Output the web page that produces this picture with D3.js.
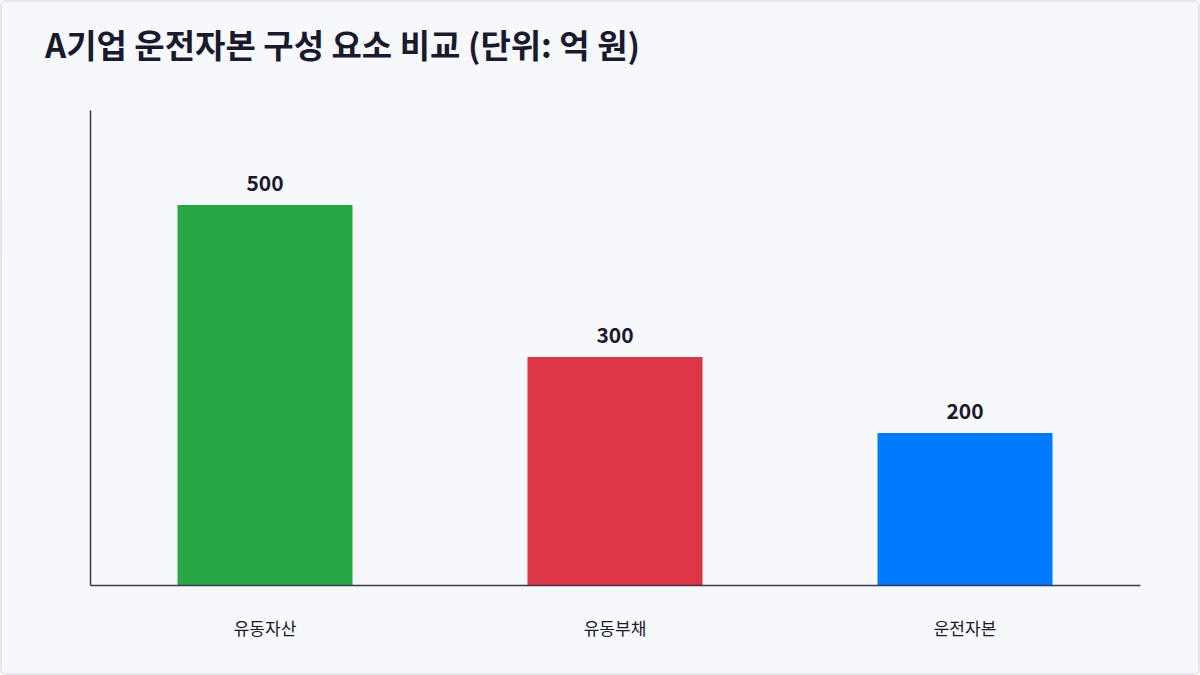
<!DOCTYPE html>
<html><head><meta charset="utf-8">
<script src="https://cdn.jsdelivr.net/npm/d3@7"></script>
<style>body{margin:0;background:#fff;font-family:"Noto Sans CJK KR","Noto Sans",sans-serif}</style>
</head><body><svg id="c" width="1200" height="675"></svg>
<script>
const categories = ['유동자산', '유동부채', '운전자본'];
const values = [500, 300, 200];
const colors = ['#28a745', '#dc3545', '#007bff'];

const svg = d3.select('#c');
svg.append('rect').attr('x', 1).attr('y', 1).attr('width', 1198).attr('height', 673)
  .attr('rx', 4).attr('fill', '#f7f8fc').attr('stroke', '#dde1ea').attr('stroke-width', 1.5);

svg.append('text').attr('x', 45).attr('y', 58).text('A기업 운전자본 구성 요소 비교 (단위: 억 원)')
  .attr('font-size', 33).attr('font-weight', 700).attr('fill', '#1a1a2e');

const x = d3.scaleBand().domain(categories).range([90, 1140]).paddingInner(0.5).paddingOuter(0.25);
const y = d3.scaleLinear().domain([0, 625]).range([585, 110]);

svg.selectAll('.bar').data(values).enter().append('rect')
  .attr('x', (d, i) => x(categories[i])).attr('y', d => y(d))
  .attr('width', x.bandwidth()).attr('height', d => y(0) - y(d))
  .attr('fill', (d, i) => colors[i]);

svg.selectAll('.val').data(values).enter().append('text')
  .attr('x', (d, i) => x(categories[i]) + x.bandwidth() / 2).attr('y', d => y(d) - 14)
  .attr('text-anchor', 'middle').attr('font-size', 21).attr('font-weight', 700).attr('fill', '#1a1a2e')
  .text(d => d);

const xa = svg.append('g').attr('transform', 'translate(0,585)')
  .call(d3.axisBottom(x).tickSize(0).tickPadding(38));
xa.select('.domain').attr('stroke', '#3a3a4a').attr('stroke-width', 1.5);
xa.selectAll('text').attr('font-size', 17).attr('fill', '#1a1a2e').attr('font-family', '"Noto Sans CJK KR",sans-serif');

const ya = svg.append('g').attr('transform', 'translate(90,0)')
  .call(d3.axisLeft(y).ticks(0).tickSize(0));
ya.selectAll('text').remove();
ya.select('.domain').attr('stroke', '#3a3a4a').attr('stroke-width', 1.5);
</script></body></html>
